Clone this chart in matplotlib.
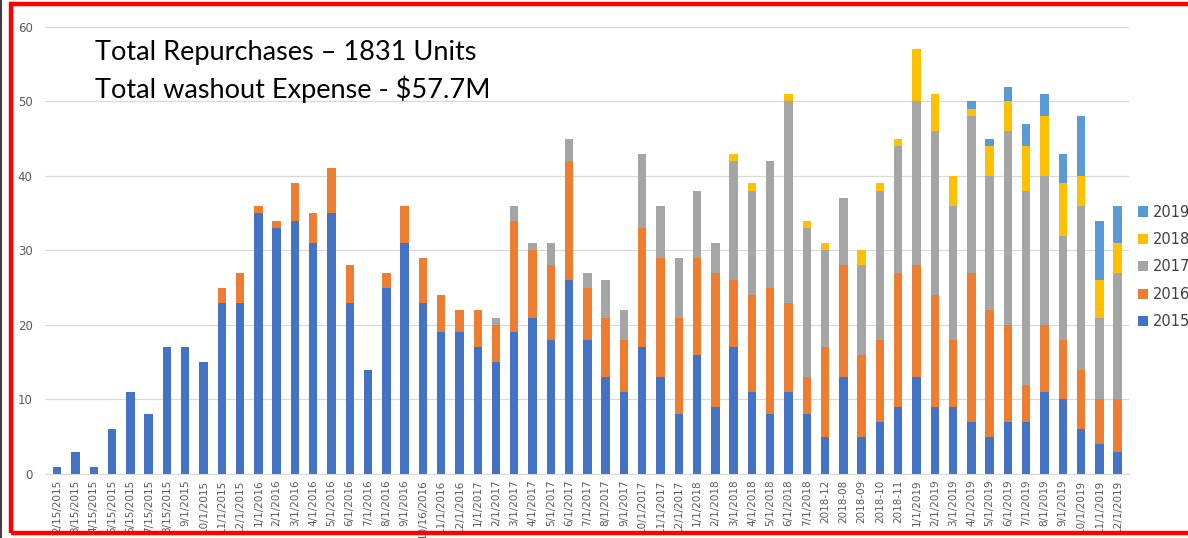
"""
Repurchases by month, stacked by vintage year (2015-2019).
Saves the chart as out.png
"""

import numpy as np
import matplotlib
matplotlib.use("Agg")
import matplotlib.pyplot as plt
from matplotlib.patches import Rectangle, Patch
from matplotlib.lines import Line2D


# ─── Data ──────────────────────────────────────────────────────────────────────

MONTHS = [
    "2/15/2015", "3/15/2015", "4/15/2015", "5/15/2015", "6/15/2015", "7/15/2015",
    "8/15/2015", "9/1/2015", "10/1/2015", "11/1/2015", "12/1/2015",
    "1/1/2016", "2/1/2016", "3/1/2016", "4/1/2016", "5/1/2016", "6/1/2016",
    "7/1/2016", "8/1/2016", "9/1/2016", "10/16/2016", "11/1/2016", "12/1/2016",
    "1/1/2017", "2/1/2017", "3/1/2017", "4/1/2017", "5/1/2017", "6/1/2017",
    "7/1/2017", "8/1/2017", "9/1/2017", "10/1/2017", "11/1/2017", "12/1/2017",
    "1/1/2018", "2/1/2018", "3/1/2018", "4/1/2018", "5/1/2018", "6/1/2018",
    "7/1/2018", "2018-12", "2018-08", "2018-09", "2018-10", "2018-11",
    "1/1/2019", "2/1/2019", "3/1/2019", "4/1/2019", "5/1/2019", "6/1/2019",
    "7/1/2019", "8/1/2019", "9/1/2019", "10/1/2019", "11/1/2019", "12/1/2019",
]

Y2015 = [1, 3, 1, 6, 11, 8, 17, 17, 15, 23, 23,
         35, 33, 34, 31, 35, 23, 14, 25, 31, 23, 19, 19,
         17, 15, 19, 21, 18, 26, 18, 13, 11, 17, 13, 8,
         16, 9, 17, 11, 8, 11, 8, 5, 13, 5, 7, 9,
         13, 9, 9, 7, 5, 7, 7, 11, 10, 6, 4, 3]

Y2016 = [0, 0, 0, 0, 0, 0, 0, 0, 0, 2, 4,
         1, 1, 5, 4, 6, 5, 0, 2, 5, 6, 5, 3,
         5, 5, 15, 9, 10, 16, 7, 8, 7, 16, 16, 13,
         13, 18, 9, 13, 17, 12, 5, 12, 15, 11, 11, 18,
         15, 15, 9, 20, 17, 13, 5, 9, 8, 8, 6, 7]

Y2017 = [0, 0, 0, 0, 0, 0, 0, 0, 0, 0, 0,
         0, 0, 0, 0, 0, 0, 0, 0, 0, 0, 0, 0,
         0, 1, 2, 1, 3, 3, 2, 5, 4, 10, 7, 8,
         9, 4, 16, 14, 17, 27, 20, 13, 9, 12, 20, 17,
         22, 22, 18, 21, 18, 26, 26, 20, 14, 22, 11, 17]

Y2018 = [0, 0, 0, 0, 0, 0, 0, 0, 0, 0, 0,
         0, 0, 0, 0, 0, 0, 0, 0, 0, 0, 0, 0,
         0, 0, 0, 0, 0, 0, 0, 0, 0, 0, 0, 0,
         0, 0, 1, 1, 0, 1, 1, 1, 0, 2, 1, 1,
         7, 5, 4, 1, 4, 4, 6, 8, 7, 4, 5, 4]

Y2019 = [0, 0, 0, 0, 0, 0, 0, 0, 0, 0, 0,
         0, 0, 0, 0, 0, 0, 0, 0, 0, 0, 0, 0,
         0, 0, 0, 0, 0, 0, 0, 0, 0, 0, 0, 0,
         0, 0, 0, 0, 0, 0, 0, 0, 0, 0, 0, 0,
         0, 0, 0, 1, 1, 2, 3, 3, 4, 8, 8, 5]

SERIES = ["2015", "2016", "2017", "2018", "2019"]
COLORS = ["#4472C4", "#ED7D31", "#A5A5A5", "#FFC000", "#5B9BD5"]

NOTE_LINES = ["Total Repurchases \u2013 1831 Units",
              "Total washout Expense - $57.7M"]
Y_TICKS = [0, 10, 20, 30, 40, 50, 60]


# ─── Plot ──────────────────────────────────────────────────────────────────────

def main():
    fig = plt.figure(figsize=(11.88, 5.38), dpi=100, facecolor="white")
    ax = fig.add_axes([0.038, 0.119, 0.912, 0.831])

    x = np.arange(len(MONTHS))
    bottom = np.zeros(len(MONTHS))
    for vals, color in zip([Y2015, Y2016, Y2017, Y2018, Y2019], COLORS):
        vals = np.array(vals, dtype=float)
        ax.bar(x, vals, bottom=bottom, width=0.46, color=color, linewidth=0)
        bottom += vals

    ax.set_ylim(0, 60)
    ax.set_xlim(-0.66, len(MONTHS) - 0.4)
    ax.set_yticks(Y_TICKS)
    ax.set_xticks(x)
    ax.set_xticklabels(MONTHS, rotation=90, fontsize=7.5, color="#595959")
    ax.tick_params(axis="y", labelsize=8.5, labelcolor="#595959", length=0, pad=9)
    ax.tick_params(axis="x", length=0, pad=4)
    ax.grid(axis="y", color="#D9D9D9", linewidth=0.9)
    ax.set_axisbelow(True)
    for side in ["top", "right", "left"]:
        ax.spines[side].set_visible(False)
    ax.spines["bottom"].set_color("#D9D9D9")

    # Annotation text
    fig.text(0.080, 0.902, NOTE_LINES[0], fontsize=19.5, family="Lato",
             va="center", ha="left", color="black")
    fig.text(0.080, 0.835, NOTE_LINES[1], fontsize=19.5, family="Lato",
             va="center", ha="left", color="black")

    # Legend, newest year on top
    handles = [Patch(facecolor=c, edgecolor="none") for c in COLORS][::-1]
    fig.legend(handles, SERIES[::-1], loc="center left",
               bbox_to_anchor=(0.958, 0.504), frameon=False,
               fontsize=10.5, handlelength=0.7, handleheight=0.7,
               handletextpad=0.3, labelspacing=0.85, labelcolor="#404040",
               borderaxespad=0, borderpad=0)

    # Red frame around the slide image
    fig.patches.append(Rectangle((0.0095, 0.010), 1.05, 0.982,
                                 transform=fig.transFigure, fill=False,
                                 edgecolor="#FF0000", linewidth=3.2))
    fig.lines.append(Line2D([0.0012, 0.0012], [0, 1], transform=fig.transFigure,
                            color="#404040", linewidth=1.5))

    fig.savefig("out.png", dpi=100, facecolor="white")


if __name__ == "__main__":
    main()
